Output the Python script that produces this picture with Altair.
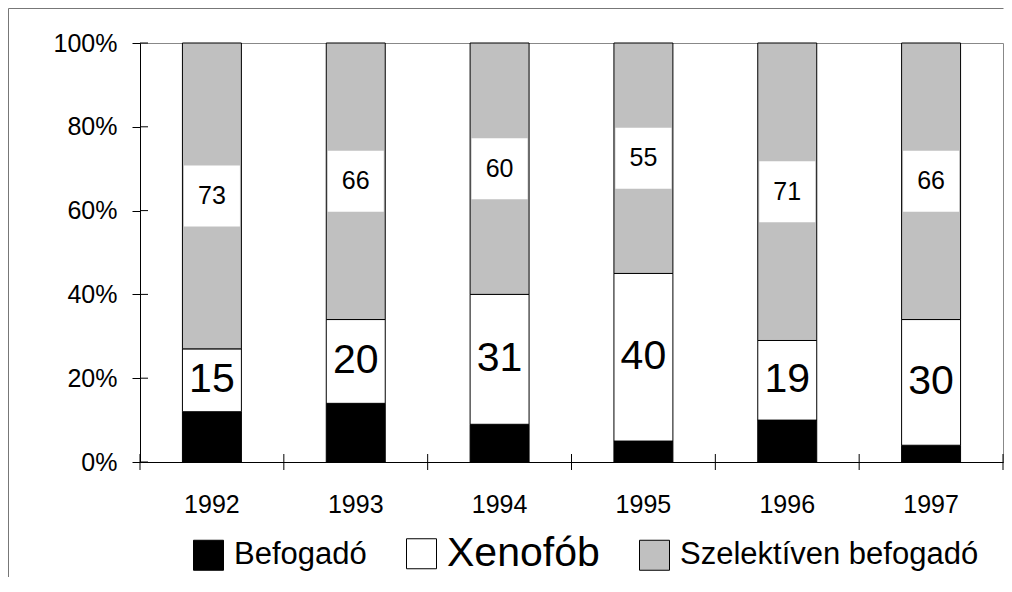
import altair as alt
import pandas as pd

years = ["1992", "1993", "1994", "1995", "1996", "1997"]
categories = ["Befogadó", "Xenofób", "Szelektíven befogadó"]
befogado = [12, 14, 9, 5, 10, 4]
xenofob = [15, 20, 31, 40, 19, 30]
szelektiv = [73, 66, 60, 55, 71, 66]
y_ticks = [0, 20, 40, 60, 80, 100]
colors = ["#000000", "#ffffff", "#c0c0c0"]

rows = []
for i, yr in enumerate(years):
    for k, vals in enumerate([befogado, xenofob, szelektiv]):
        rows.append({"year": yr, "cat": categories[k], "value": vals[i], "order": k})
df = pd.DataFrame(rows)

FONT = "Liberation Sans"
W, H = 863, 419
STEP = W / len(years)

xaxis = alt.Axis(title=None, labelAngle=0, ticks=False, domainColor="black", domainWidth=1,
                 labelFontSize=25, labelFont=FONT, labelColor="black", labelPadding=30, zindex=1)
xenc = alt.X("year:N", sort=years,
             scale=alt.Scale(paddingInner=0.59, paddingOuter=0.295), axis=xaxis)
yscale = alt.Scale(domain=[0, 100], nice=False)
yaxis = alt.Axis(title=None, values=y_ticks, labelExpr="datum.value + '%'", tickSize=8,
                 tickColor="black", tickWidth=1, domainColor="black", domainWidth=1,
                 labelFontSize=25, labelFont=FONT, labelColor="black", labelPadding=15,
                 grid=False, zindex=1)

base = alt.Chart(df).transform_stack(
    stack="value", groupby=["year"], sort=[alt.SortField("order")], as_=["y0", "y1"]
).transform_calculate(mid="(datum.y0 + datum.y1) / 2")

bars = base.mark_bar(stroke="black", strokeWidth=1).encode(
    x=xenc,
    y=alt.Y("y0:Q", scale=yscale, axis=yaxis),
    y2="y1:Q",
    color=alt.Color(
        "cat:N",
        scale=alt.Scale(domain=categories, range=colors),
        legend=alt.Legend(
            title=None, orient="none", legendX=53, legendY=495, direction="horizontal",
            symbolType="square", symbolSize=900, symbolStrokeColor="black",
            symbolStrokeWidth=1, symbolOpacity=1,
            labelFont=FONT, labelColor="black", labelLimit=600, labelOffset=10,
            labelFontSize={"expr": "datum.label === 'Xenofób' ? 41 : 31"},
            columnPadding=37, padding=0,
        ),
    ),
    order="order:Q",
)

xen_text = base.transform_filter("datum.cat === 'Xenofób'").mark_text(
    fontSize=41, font=FONT, color="black", baseline="middle"
).encode(x=xenc, y=alt.Y("mid:Q", scale=yscale, axis=yaxis), text="value:Q")

sel_box = base.transform_filter("datum.cat === 'Szelektíven befogadó'").mark_tick(
    color="white", thickness=61, size=56, opacity=1, filled=True
).encode(x=xenc, y=alt.Y("mid:Q", scale=yscale, axis=yaxis))

sel_text = base.transform_filter("datum.cat === 'Szelektíven befogadó'").mark_text(
    fontSize=25, font=FONT, color="black", baseline="middle"
).encode(x=xenc, y=alt.Y("mid:Q", scale=yscale, axis=yaxis), text="value:Q")

# inner parts of the y ticks (crossing ticks)
ytick_df = pd.DataFrame({"v": y_ticks})
y_inner = alt.Chart(ytick_df).mark_rule(color="black", strokeWidth=1).encode(
    y=alt.Y("v:Q", scale=yscale, axis=yaxis), x=alt.value(0), x2=alt.value(8)
)

# x ticks between categories
year_df = pd.DataFrame({"year": years})
x_ticks = alt.Chart(year_df).mark_rule(color="black", strokeWidth=1, xOffset=-STEP / 2).encode(
    x=xenc, y=alt.value(H - 8), y2=alt.value(H + 8)
)
end_df = pd.DataFrame({"a": [0]})
x_end = alt.Chart(end_df).mark_rule(color="black", strokeWidth=1).encode(
    x=alt.value(W), y=alt.value(H - 8), y2=alt.value(H + 8)
)

# outer frame (top and left)
frame_left = alt.Chart(end_df).mark_rule(color="#777777", strokeWidth=1).encode(
    x=alt.value(-131.5), y=alt.value(-34.5), y2=alt.value(534)
)
frame_top = alt.Chart(end_df).mark_rule(color="#777777", strokeWidth=1).encode(
    x=alt.value(-131.5), x2=alt.value(W + 0.5), y=alt.value(-34.5)
)

chart = alt.layer(
    bars, sel_box, sel_text, xen_text, y_inner, x_ticks, x_end, frame_left, frame_top
).properties(width=W, height=H, padding=0, background="white").configure_view(
    stroke="#888888", strokeWidth=1
)

chart.save("out.html", embed_options={"renderer": "svg", "actions": False})
